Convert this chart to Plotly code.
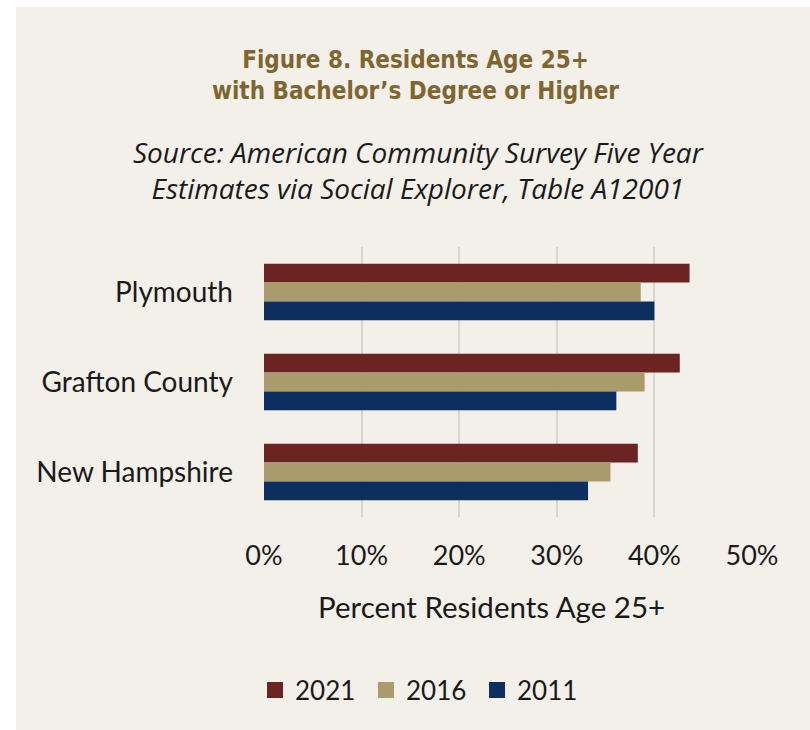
import plotly.graph_objects as go

# Share of residents age 25+ holding a bachelor's degree or higher (%)
places = ["Plymouth", "Grafton County", "New Hampshire"]
years = ["2021", "2016", "2011"]
pct_2021 = [43.6, 42.6, 38.3]
pct_2016 = [38.6, 39.0, 35.5]
pct_2011 = [40.0, 36.1, 33.2]
x_ticks = [0, 10, 20, 30, 40, 50]
x_tick_labels = ["0%", "10%", "20%", "30%", "40%", "50%"]

series = [pct_2021, pct_2016, pct_2011]
colors = ["#6B2421", "#AA9B6D", "#0D2F60"]

BG = "#F3EFE9"
BODY_FONT = "Lato, 'Noto Sans', sans-serif"
PLOT_W, PLOT_H = 488, 270
L, R, T, B = 264, 58, 247, 213


def px_x(px):
    """Horizontal page pixel -> paper fraction."""
    return (px - L) / PLOT_W


def px_y(px):
    """Vertical page pixel (from top) -> paper fraction."""
    return (PLOT_H - (px - T)) / PLOT_H


fig = go.Figure()
for year, vals, col in zip(years, series, colors):
    fig.add_trace(go.Bar(
        y=places, x=vals, name=year, orientation="h",
        marker=dict(color=col, line=dict(width=0)),
        showlegend=False,
    ))
# legend keys: larger square swatches than the default bar key
for year, col in zip(years, colors):
    fig.add_trace(go.Scatter(
        x=[None], y=[None], name=year, mode="markers",
        marker=dict(symbol="square", size=17, color=col),
        showlegend=True,
    ))

fig.update_layout(
    width=810, height=730,
    paper_bgcolor="white",
    plot_bgcolor=BG,
    margin=dict(l=L, r=R, t=T, b=B),
    barmode="group", bargap=0.37, bargroupgap=0,
    font=dict(family=BODY_FONT, color="#1A1A1A", size=28),
    showlegend=True,
    legend=dict(
        orientation="h", x=px_x(255), xanchor="left",
        y=px_y(690), yanchor="middle",
        font=dict(size=26, family=BODY_FONT), traceorder="normal",
        entrywidth=66, itemwidth=30, bgcolor="rgba(0,0,0,0)",
    ),
    shapes=[dict(
        type="rect", xref="paper", yref="paper", layer="below",
        x0=px_x(16), x1=px_x(810), y0=px_y(730), y1=px_y(7),
        fillcolor=BG, line=dict(width=0),
    )],
    annotations=[
        dict(
            text="<b>Figure 8. Residents Age 25+<br>with Bachelor’s Degree or Higher</b>",
            xref="paper", yref="paper", x=px_x(415), y=px_y(75),
            xanchor="center", yanchor="middle", showarrow=False,
            font=dict(family="'DejaVu Sans Condensed', 'Liberation Sans Narrow', sans-serif",
                      size=24, color="#7E6630"),
        ),
        dict(
            text="<i>Source: American Community Survey Five Year<br>Estimates via Social Explorer, Table A12001</i>",
            xref="paper", yref="paper", x=px_x(418), y=px_y(170),
            xanchor="center", yanchor="middle", showarrow=False,
            font=dict(family="'Open Sans', Lato, sans-serif", size=28, color="#1A1A1A"),
        ),
        dict(
            text="Percent Residents Age 25+",
            xref="paper", yref="paper", x=px_x(491), y=px_y(606),
            xanchor="center", yanchor="middle", showarrow=False,
            font=dict(family=BODY_FONT, size=29.5, color="#1A1A1A"),
        ),
    ],
)

fig.update_xaxes(
    range=[0, 50], tickvals=x_ticks, ticktext=x_tick_labels,
    showgrid=True, gridcolor="#D8D4CE", gridwidth=1.5,
    zeroline=False, showline=False, ticks="",
    ticklabelstandoff=20,
    tickfont=dict(size=27),
)
fig.update_yaxes(
    autorange="reversed", showgrid=False, zeroline=False, showline=False,
    ticks="", ticklabelstandoff=30, tickfont=dict(size=28),
)

fig.write_html("out.html")
